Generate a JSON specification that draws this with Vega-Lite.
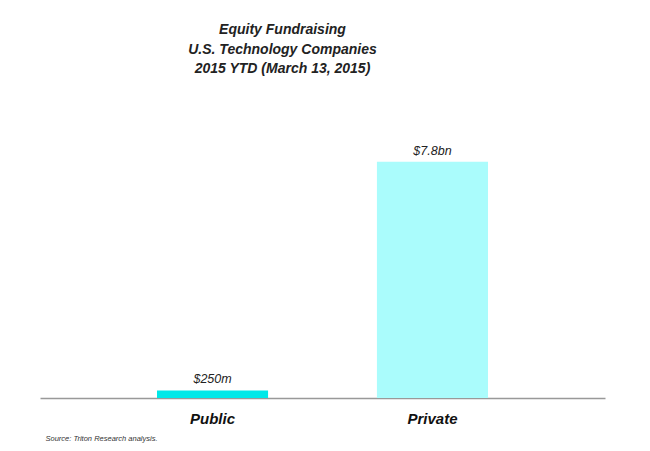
{
  "$schema": "https://vega.github.io/schema/vega-lite/v6.json",
  "autosize": "none",
  "width": 565,
  "height": 303,
  "padding": {"left": 40, "top": 95, "right": 45, "bottom": 53},
  "background": "white",
  "title": {
    "text": ["Equity Fundraising", "U.S. Technology Companies", "2015 YTD (March 13, 2015)"],
    "font": "Liberation Sans",
    "fontSize": 14,
    "fontWeight": "bold",
    "fontStyle": "italic",
    "color": "#222222",
    "lineHeight": 19.5,
    "anchor": "middle",
    "dx": -40,
    "offset": 19
  },
  "data": {
    "values": [
      {"type": "Public", "value": 0.25, "label": "$250m"},
      {"type": "Private", "value": 7.8, "label": "$7.8bn"}
    ]
  },
  "encoding": {
    "x": {
      "field": "type",
      "type": "nominal",
      "sort": ["Public", "Private"],
      "scale": {"paddingInner": 0.495, "paddingOuter": 0.532},
      "axis": {
        "labelAngle": 0,
        "labelFont": "Liberation Sans",
        "labelFontSize": 15,
        "labelFontWeight": "bold",
        "labelFontStyle": "italic",
        "labelColor": "#111111",
        "labelPadding": 13,
        "ticks": false,
        "domainColor": "#999999",
        "domainWidth": 1.5,
        "title": "Source: Triton Research analysis.",
        "titleFont": "Liberation Sans",
        "titleFontSize": 7.5,
        "titleFontWeight": "normal",
        "titleFontStyle": "italic",
        "titleColor": "#333333",
        "titleAnchor": "start",
        "titleAlign": "left",
        "titleBaseline": "middle",
        "titleX": 5,
        "titleY": 40
      }
    },
    "y": {
      "field": "value",
      "type": "quantitative",
      "scale": {"domain": [0, 10]},
      "axis": null
    }
  },
  "layer": [
    {
      "mark": {"type": "bar"},
      "encoding": {
        "color": {
          "field": "type",
          "type": "nominal",
          "scale": {"domain": ["Public", "Private"], "range": ["#00E8E8", "#AAFCFC"]},
          "legend": null
        }
      }
    },
    {
      "mark": {
        "type": "text",
        "dy": -11,
        "font": "Liberation Sans",
        "fontSize": 12.5,
        "fontStyle": "italic",
        "color": "#222222"
      },
      "encoding": {"text": {"field": "label"}}
    }
  ],
  "config": {"view": {"stroke": null}}
}
